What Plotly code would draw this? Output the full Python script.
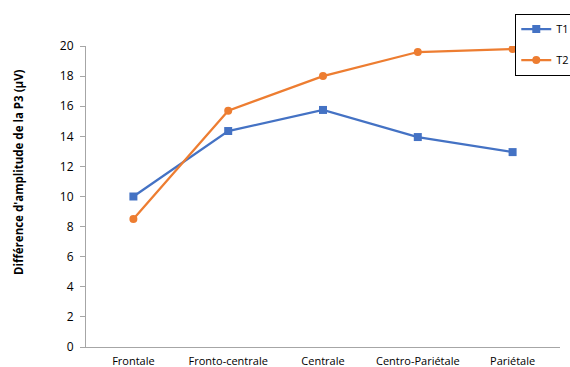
import plotly.graph_objects as go

categories = ["Frontale", "Fronto-centrale", "Centrale", "Centro-Pariétale", "Pariétale"]
t1_values = [10.0, 14.35, 15.75, 13.95, 12.95]
t2_values = [8.5, 15.7, 18.0, 19.6, 19.8]
y_ticks = [0, 2, 4, 6, 8, 10, 12, 14, 16, 18, 20]

fig = go.Figure()
fig.add_trace(go.Scatter(x=categories, y=t1_values, name="T1", mode="lines+markers",
                         line=dict(color="#4472C4", width=2.25),
                         marker=dict(symbol="square", size=8, color="#4472C4"),
                         legendgroup="a"))
fig.add_trace(go.Scatter(x=categories, y=t2_values, name="T2", mode="lines+markers",
                         line=dict(color="#ED7D31", width=2.25),
                         marker=dict(symbol="circle", size=8, color="#ED7D31"),
                         legendgroup="b"))

fig.add_annotation(text="<b>Différence d'amplitude de la P3 (µV)</b>",
                   xref="paper", yref="paper", x=-0.1435, y=0.581,
                   xanchor="center", yanchor="middle", textangle=-90,
                   showarrow=False, font=dict(size=11.5))

fig.update_layout(
    width=570, height=367,
    margin=dict(l=86, r=10, t=46, b=20, autoexpand=False),
    plot_bgcolor="white", paper_bgcolor="white",
    font=dict(family="Open Sans, Liberation Sans, sans-serif", size=12, color="black"),
    showlegend=True,
    legend=dict(xref="container", yref="container", x=0.904, y=0.963,
                xanchor="left", yanchor="top",
                bordercolor="black", borderwidth=1, bgcolor="white",
                font=dict(size=11), tracegroupgap=12, itemwidth=30),
    xaxis=dict(range=[-0.5, 4.5], showline=True, linecolor="#A6A6A6", linewidth=1,
               showgrid=False, ticks="", tickfont=dict(size=11), automargin=False,
               ticklabelstandoff=4),
    yaxis=dict(range=[0, 20], tickvals=y_ticks, showline=True, linecolor="#A6A6A6",
               linewidth=1, showgrid=False, ticks="outside", ticklen=5, tickcolor="#A6A6A6",
               zeroline=False, tickfont=dict(size=12), automargin=False,
               ticklabelstandoff=4),
)

fig.write_html("out.html", config={"displayModeBar": False},
               post_script="document.body.style.margin='0';")
